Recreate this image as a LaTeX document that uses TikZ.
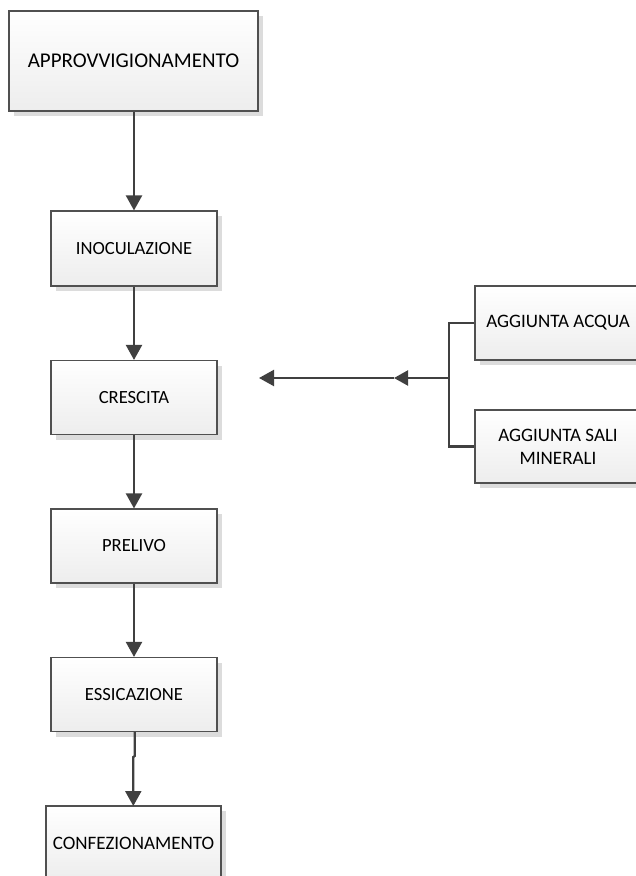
\documentclass[tikz,border=0pt]{standalone}
\usepackage{fontspec}
\setmainfont{Carlito}
\usetikzlibrary{arrows.meta,shadows}
\definecolor{linec}{HTML}{404040}
\definecolor{boxline}{HTML}{505050}
\definecolor{boxbot}{HTML}{EDEDED}
\definecolor{shadowc}{HTML}{DCDCDC}
\tikzset{
  procbox/.style={draw=boxline, line width=1.1pt, top color=white, bottom color=boxbot,
    inner sep=0pt, align=center,
    drop shadow={shadow xshift=5pt, shadow yshift=-5pt, fill=shadowc, opacity=1}},
  midtext/.style={font=\fontsize{18.6}{22}\selectfont},
  sidetext/.style={font=\fontsize{19}{23}\selectfont},
  bigtext/.style={font=\fontsize{21}{24}\selectfont},
  conn/.style={draw=linec, line width=2.2pt},
  arr/.style={conn, -{Triangle[width=16pt,length=15pt]}},
  midarr/.style={conn, -{Triangle[width=15pt,length=14pt]}},
}
\begin{document}
\begin{tikzpicture}[x=1pt,y=-1pt]
\useasboundingbox (0,0) rectangle (636,876);
\clip (0,0) rectangle (636,876);
\node[procbox, bigtext, minimum width=249pt, minimum height=100pt] (appr) at (133.5,61) {APPROVVIGIONAMENTO};
\node[procbox, midtext, minimum width=166pt, minimum height=75pt] (inoc) at (134,248.5) {INOCULAZIONE};
\node[procbox, midtext, minimum width=166pt, minimum height=74pt] (cresc) at (134,397.5) {CRESCITA};
\node[procbox, midtext, minimum width=166pt, minimum height=74pt] (prel) at (134,546) {PRELIVO};
\node[procbox, midtext, minimum width=166pt, minimum height=74pt] (essic) at (134,694.5) {ESSICAZIONE};
\node[procbox, sidetext, minimum width=175pt, minimum height=74pt] (conf) at (133.5,843) {CONFEZIONAMENTO};
\node[procbox, sidetext, minimum width=166pt, minimum height=74pt] (acqua) at (558,323) {AGGIUNTA ACQUA};
\node[procbox, sidetext, minimum width=166pt, minimum height=73pt] (sali) at (558,446.5) {AGGIUNTA SALI\\MINERALI};

\draw[arr] (appr.south -| 134,0) -- (inoc.north);
\draw[arr] (inoc.south) -- (cresc.north);
\draw[arr] (cresc.south) -- (prel.north);
\draw[arr] (prel.south) -- (essic.north);
\coordinate (jog) at (134.7,756);
\draw[arr] (essic.south -| jog) -- (jog) -- (133.3,757) -- (133.3,806);

\coordinate (vj) at (449,378);
\coordinate (mid) at (394,378);
\coordinate (tipl) at (259,378);
\draw[conn] (acqua.west) -- (449,323) -- (449,446.5) -- (sali.west);
\draw[midarr] (vj) -- (mid);
\draw[arr] (mid) -- (tipl);
\end{tikzpicture}
\end{document}
